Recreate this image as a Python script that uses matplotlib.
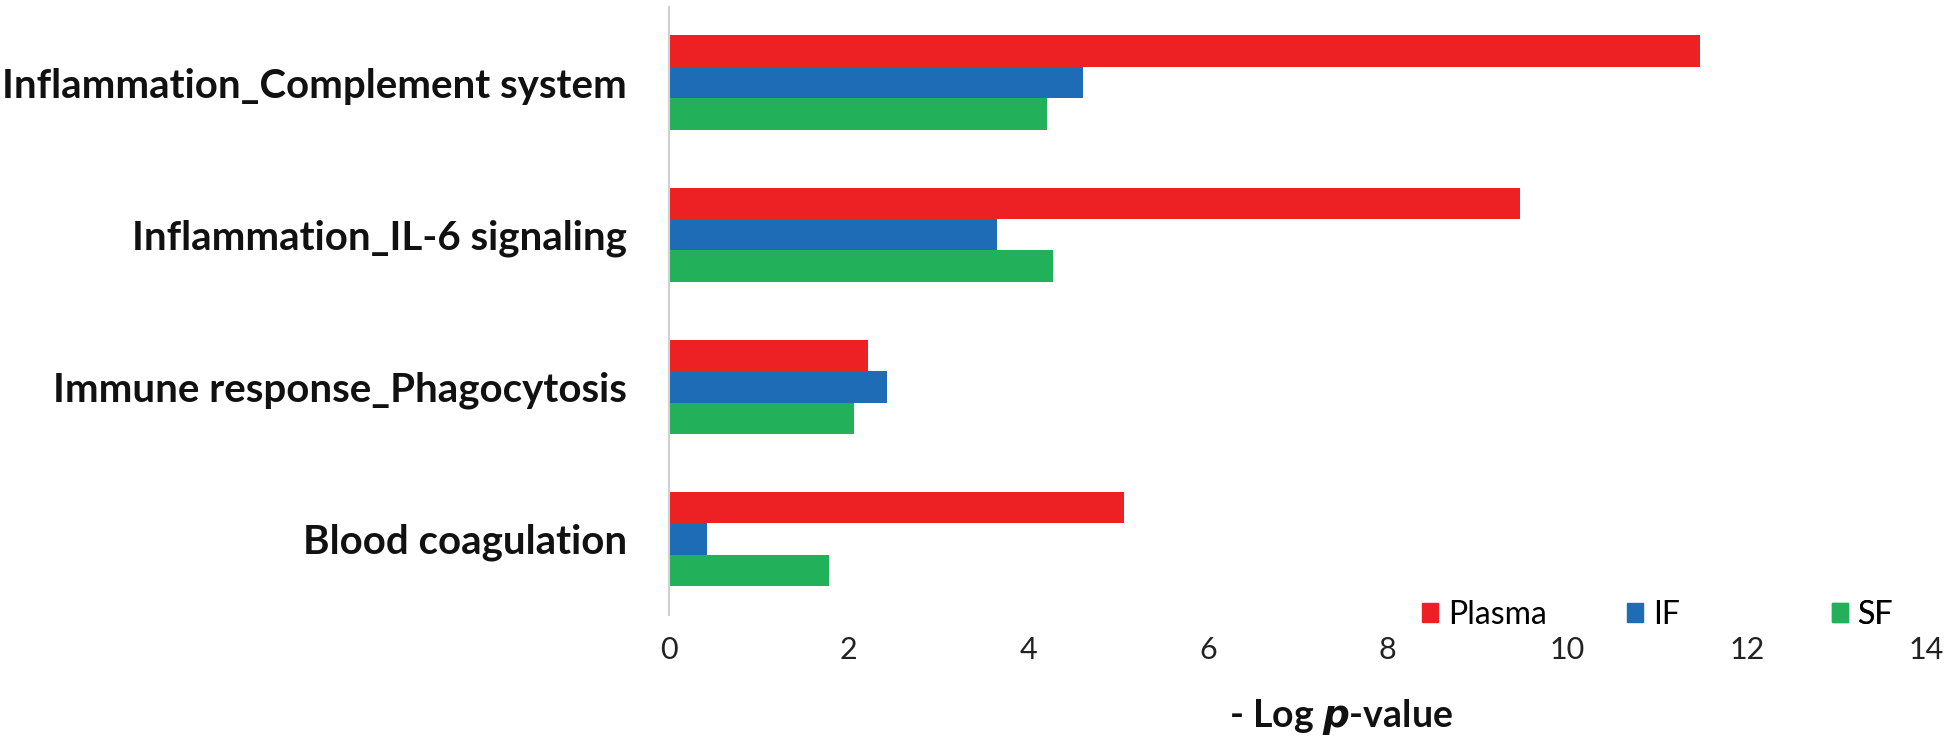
import numpy as np
import matplotlib.pyplot as plt
from matplotlib.patches import Patch

# Datos
categorias = ["Inflammation_Complement system",
              "Inflammation_IL-6 signaling",
              "Immune response_Phagocytosis",
              "Blood coagulation"]
plasma = [11.48, 9.47, 2.22, 5.07]
if_vals = [4.61, 3.65, 2.43, 0.43]
sf_vals = [4.21, 4.28, 2.06, 1.78]
series = ["Plasma", "IF", "SF"]
colores = ["#ED2024", "#1E6CB6", "#23B05A"]
ticks_x = [0, 2, 4, 6, 8, 10, 12, 14]

plt.rcParams['font.family'] = ['Lato', 'DejaVu Sans']

fig = plt.figure(figsize=(19.5, 7.39), dpi=100)
ax = fig.add_axes([0.343, 0.168, 0.645, 0.823])

y = np.arange(len(categorias))
h = 0.207
for i, (vals, nombre, col) in enumerate(zip([plasma, if_vals, sf_vals], series, colores)):
    ax.barh(y + (i - 1) * h, vals, height=h, color=col, label=nombre)

ax.set_ylim(3.5, -0.5)
ax.set_xlim(0, 14)
ax.set_xticks(ticks_x)
ax.set_xticklabels([str(t) for t in ticks_x], fontsize=22, color="#222222")
ax.set_yticks(y)
ax.set_yticklabels(categorias, fontsize=29, fontweight="bold", color="#111111")
ax.tick_params(axis="x", length=0, pad=15)
ax.tick_params(axis="y", length=0, pad=30)

for lado in ["top", "right", "bottom"]:
    ax.spines[lado].set_visible(False)
ax.spines["left"].set_color("#d0d0d0")
ax.spines["left"].set_linewidth(1.5)

ax.set_xlabel("- Log $\\boldsymbol{p}$-value", fontsize=27, fontweight="bold", color="#111111")
ax.xaxis.set_label_coords(0.534, -0.135)

# Leyenda: una entrada por posición, espaciadas como en el original
pos_leyenda = [0.599, 0.762, 0.925]
for nombre, col, px in zip(series, colores, pos_leyenda):
    leg = ax.legend(handles=[Patch(color=col)], labels=[nombre],
                    loc="center left", bbox_to_anchor=(px, 0.0),
                    frameon=False, fontsize=23, handlelength=0.5,
                    handleheight=0.5, handletextpad=0.3, borderpad=0,
                    borderaxespad=0)
    ax.add_artist(leg)

fig.savefig("out.png", dpi=100)
